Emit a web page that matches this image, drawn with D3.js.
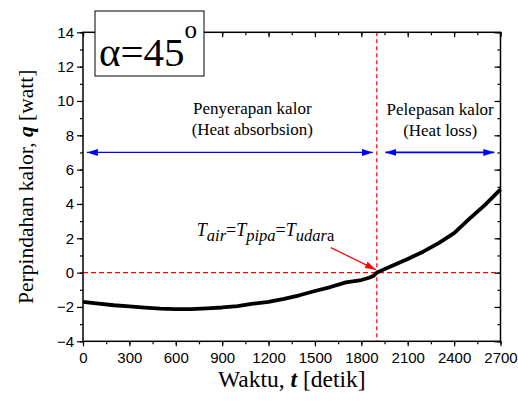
<!DOCTYPE html>
<html>
<head>
<meta charset="utf-8">
<script src="https://cdn.jsdelivr.net/npm/d3@7"></script>
<style>
body{margin:0;background:#fff;}
.tick text{font-family:"Liberation Sans",Arial,sans-serif;font-size:15px;fill:#000;}
</style>
</head>
<body>
<svg width="518" height="402"></svg>
<script>
// data (time in s, heat in W)
var times = [0,100,200,300,400,500,600,700,800,900,1000,1100,1200,1300,1400,1500,1600,1700,1800,1850,1880,1900,2000,2100,2200,2300,2400,2500,2600,2700];
var heat  = [-1.70,-1.80,-1.90,-1.97,-2.04,-2.10,-2.12,-2.12,-2.08,-2.03,-1.95,-1.81,-1.70,-1.53,-1.32,-1.07,-0.84,-0.57,-0.43,-0.30,-0.18,0.0,0.40,0.80,1.22,1.72,2.30,3.15,3.95,4.85];
var xTicks = [0,300,600,900,1200,1500,1800,2100,2400,2700];
var yTicks = [-4,-2,0,2,4,6,8,10,12,14];
var xMinor = d3.range(0,2701,150);
var yMinor = d3.range(-4,14.1,1);
var tEqual = 1900;       // crossing point
var arrowLevel = 7;      // blue arrows
var absorbRange = [25,1875];
var lossRange = [1955,2660];

var serif = "'Liberation Serif','Times New Roman',serif";
var pLeft = 83, pRight = 500.5, pTop = 32.3, pBottom = 341.3;
var svg = d3.select("svg");

var x = d3.scaleLinear().domain([0,2700]).range([pLeft,pRight]);
var y = d3.scaleLinear().domain([-4,14]).range([pBottom,pTop]);

// markers
var defs = svg.append("defs");
defs.append("marker").attr("id","blueHead")
	.attr("viewBox","0 0 11 7").attr("refX",11).attr("refY",3.5)
	.attr("markerWidth",11).attr("markerHeight",7)
	.attr("markerUnits","userSpaceOnUse").attr("orient","auto-start-reverse")
	.append("path").attr("d","M0,0 L11,3.5 L0,7 Z").attr("fill","#0000ff");
defs.append("marker").attr("id","redHead")
	.attr("viewBox","0 0 11 7").attr("refX",11).attr("refY",3.5)
	.attr("markerWidth",11).attr("markerHeight",7)
	.attr("markerUnits","userSpaceOnUse").attr("orient","auto")
	.append("path").attr("d","M0,0 L11,3.5 L0,7 Z").attr("fill","#ff0000");

// axes
function style(g){
	g.select(".domain").remove();
	g.selectAll(".tick line").attr("stroke","#000").attr("stroke-width",1.2);
}
svg.append("g").attr("transform","translate(0,"+pBottom+")")
	.call(d3.axisBottom(x).tickValues(xMinor).tickSize(3).tickFormat("")).call(style);
svg.append("g").attr("transform","translate(0,"+pBottom+")")
	.call(d3.axisBottom(x).tickValues(xTicks).tickSize(5).tickPadding(6).tickFormat(d3.format("d"))).call(style);
svg.append("g").attr("transform","translate(0,"+pTop+")")
	.call(d3.axisTop(x).tickValues(xMinor).tickSize(-3).tickFormat("")).call(style);
svg.append("g").attr("transform","translate(0,"+pTop+")")
	.call(d3.axisTop(x).tickValues(xTicks).tickSize(-5).tickFormat("")).call(style);
svg.append("g").attr("transform","translate("+pLeft+",0)")
	.call(d3.axisLeft(y).tickValues(yMinor).tickSize(3).tickFormat("")).call(style);
svg.append("g").attr("transform","translate("+pLeft+",0)")
	.call(d3.axisLeft(y).tickValues(yTicks).tickSize(6).tickPadding(3).tickFormat(d3.format("d"))).call(style);
svg.append("g").attr("transform","translate("+pRight+",0)")
	.call(d3.axisRight(y).tickValues(yMinor).tickSize(-3).tickFormat("")).call(style);
svg.append("g").attr("transform","translate("+pRight+",0)")
	.call(d3.axisRight(y).tickValues(yTicks).tickSize(-6).tickFormat("")).call(style);

svg.selectAll(".tick text").attr("fill","#000");

// reference lines
svg.append("line").attr("x1",x(0)).attr("x2",x(2700)).attr("y1",y(0)).attr("y2",y(0))
	.attr("stroke","#ff0000").attr("stroke-width",1.2).attr("stroke-dasharray","5,3");
svg.append("line").attr("x1",x(tEqual)).attr("x2",x(tEqual)).attr("y1",y(14)).attr("y2",y(-4))
	.attr("stroke","#ff0000").attr("stroke-width",1.2).attr("stroke-dasharray","4,3");

// curve
var line = d3.line().x(function(d,i){return x(times[i]);}).y(function(d){return y(d);});
svg.append("path").attr("d",line(heat)).attr("fill","none")
	.attr("stroke","#000").attr("stroke-width",3.8).attr("stroke-linejoin","round");

// frame
svg.append("rect").attr("x",pLeft).attr("y",pTop).attr("width",pRight-pLeft).attr("height",pBottom-pTop)
	.attr("fill","none").attr("stroke","#000").attr("stroke-width",1.5);

// blue arrows
svg.append("line").attr("x1",x(absorbRange[0])).attr("x2",x(absorbRange[1]))
	.attr("y1",y(arrowLevel)).attr("y2",y(arrowLevel))
	.attr("stroke","#0000ff").attr("stroke-width",1.2)
	.attr("marker-start","url(#blueHead)").attr("marker-end","url(#blueHead)");
svg.append("line").attr("x1",x(lossRange[0])).attr("x2",x(lossRange[1]))
	.attr("y1",y(arrowLevel)).attr("y2",y(arrowLevel))
	.attr("stroke","#0000ff").attr("stroke-width",1.8)
	.attr("marker-start","url(#blueHead)").attr("marker-end","url(#blueHead)");

// region labels
var notes = svg.append("g").attr("font-family",serif).attr("font-size",17).attr("text-anchor","middle");
notes.append("text").attr("x",x(1095)).attr("y",y(arrowLevel)-38).text("Penyerapan kalor");
notes.append("text").attr("x",x(1095)).attr("y",y(arrowLevel)-17).text("(Heat absorbsion)");
notes.append("text").attr("x",x(2310)).attr("y",y(arrowLevel)-37).text("Pelepasan kalor");
notes.append("text").attr("x",x(2310)).attr("y",y(arrowLevel)-16).text("(Heat loss)");

// equality annotation
var eq = svg.append("text").attr("font-family",serif).attr("font-size",18)
	.attr("x",x(tEqual)-180).attr("y",y(0)-37);
eq.append("tspan").attr("font-style","italic").text("T");
eq.append("tspan").attr("font-style","italic").attr("font-size",16.5).attr("dy",5).text("air");
eq.append("tspan").attr("dy",-5).text("=");
eq.append("tspan").attr("font-style","italic").text("T");
eq.append("tspan").attr("font-style","italic").attr("font-size",16.5).attr("dy",5).text("pipa");
eq.append("tspan").attr("dy",-5).text("=");
eq.append("tspan").attr("font-style","italic").text("T");
eq.append("tspan").attr("font-style","italic").attr("font-size",16.5).attr("dy",5).text("udar");
eq.append("tspan").attr("font-size",16.5).text("a");
svg.append("line").attr("x1",x(tEqual)-46).attr("y1",y(0)-25).attr("x2",x(tEqual)-1).attr("y2",y(0)-3)
	.attr("stroke","#ff0000").attr("stroke-width",1.2).attr("marker-end","url(#redHead)");

// angle box
svg.append("rect").attr("x",95).attr("y",11).attr("width",109).attr("height",65)
	.attr("fill","#fff").attr("stroke","#000").attr("stroke-width",1);
var alpha = svg.append("text").attr("font-family",serif).attr("x",99).attr("y",66).attr("font-size",41);
alpha.append("tspan").text("\u03b1=45");
alpha.append("tspan").attr("font-size",25).attr("dy",-28).text("o");

// axis titles
var xt = svg.append("text").attr("font-family",serif).attr("font-size",23.5).attr("text-anchor","middle")
	.attr("x",(pLeft+pRight)/2).attr("y",387);
xt.append("tspan").text("Waktu, ");
xt.append("tspan").attr("font-weight","bold").attr("font-style","italic").text("t");
xt.append("tspan").text(" [detik]");

var yt = svg.append("text").attr("font-family",serif).attr("font-size",21.5).attr("text-anchor","middle")
	.attr("transform","translate(33,"+((pTop+pBottom)/2)+") rotate(-90)");
yt.append("tspan").text("Perpindahan kalor, ");
yt.append("tspan").attr("font-weight","bold").attr("font-style","italic").text("q");
yt.append("tspan").text(" [watt]");
</script>
</body>
</html>
